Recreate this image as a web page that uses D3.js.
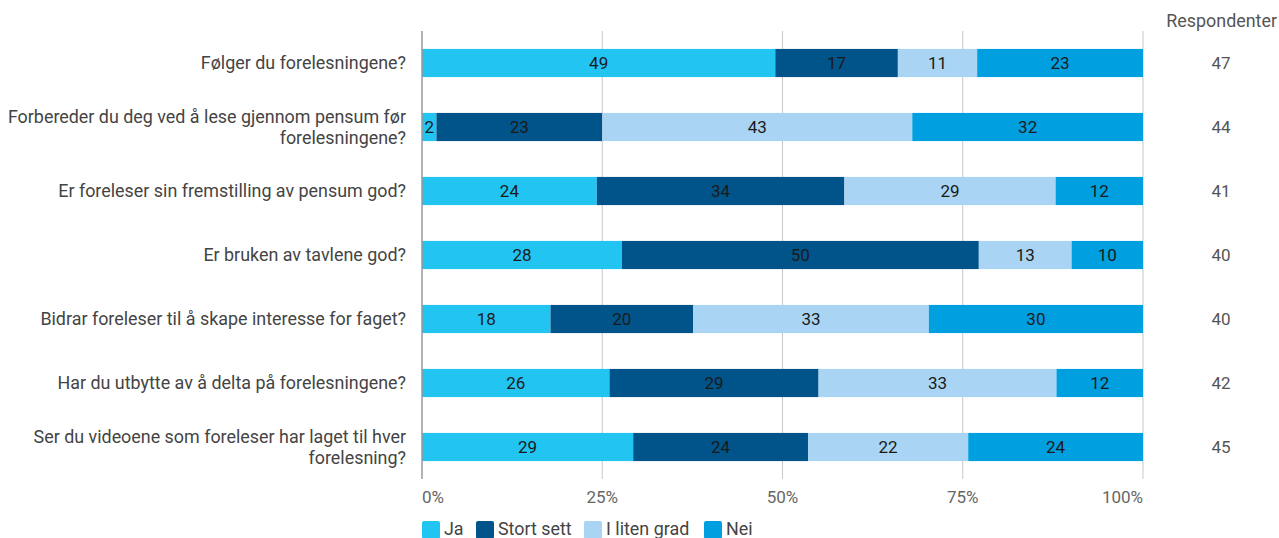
<!DOCTYPE html>
<html>
<head>
<meta charset="utf-8">
<script src="https://cdn.jsdelivr.net/npm/d3@7"></script>
<style>
  body { margin: 0; background: #fff; font-family: Roboto, "Noto Sans", sans-serif; }
</style>
</head>
<body>
<div id="chart"></div>
<script>
// questions (rows), top to bottom
const questions = [
  ['Følger du forelesningene?'],
  ['Forbereder du deg ved å lese gjennom pensum før', 'forelesningene?'],
  ['Er foreleser sin fremstilling av pensum god?'],
  ['Er bruken av tavlene god?'],
  ['Bidrar foreleser til å skape interesse for faget?'],
  ['Har du utbytte av å delta på forelesningene?'],
  ['Ser du videoene som foreleser har laget til hver', 'forelesning?']
];
const answers = ['Ja', 'Stort sett', 'I liten grad', 'Nei'];
const colors = ['#22c4f2', '#00548a', '#a9d4f4', '#009fe0'];

// percentages per answer
const ja = [49, 2, 24, 28, 18, 26, 29];
const stortSett = [17, 23, 34, 50, 20, 29, 24];
const litenGrad = [11, 43, 29, 13, 33, 33, 22];
const nei = [23, 32, 12, 10, 30, 12, 24];
const respondenter = [47, 44, 41, 40, 40, 42, 45];

const ticks = [0, 0.25, 0.5, 0.75, 1];

const width = 1279, height = 538;
const margin = { top: 31, right: 136, bottom: 59, left: 422 };
const fontSize = '17.9px';

const rows = questions.map((q, i) => ({
  idx: i, q, 'Ja': ja[i], 'Stort sett': stortSett[i], 'I liten grad': litenGrad[i], 'Nei': nei[i]
}));

const series = d3.stack().keys(answers).offset(d3.stackOffsetExpand)(rows);

const x = d3.scaleLinear().domain([0, 1]).range([margin.left, width - margin.right]);
const y = d3.scaleBand().domain(d3.range(questions.length))
  .range([margin.top, height - margin.bottom]).paddingInner(0.56).paddingOuter(0.28);

const svg = d3.select('#chart').append('svg')
  .attr('width', width).attr('height', height);

// grid lines
svg.append('g').selectAll('line')
  .data(ticks.slice(1))
  .join('line')
  .attr('x1', d => x(d)).attr('x2', d => x(d))
  .attr('y1', margin.top).attr('y2', height - margin.bottom)
  .attr('stroke', '#c8c8c8').attr('stroke-width', 1);

// bars
const layer = svg.append('g').selectAll('g')
  .data(series)
  .join('g')
  .attr('fill', (d, i) => colors[i]);

layer.selectAll('rect')
  .data(d => d)
  .join('rect')
  .attr('x', d => x(d[0]))
  .attr('width', d => x(d[1]) - x(d[0]))
  .attr('y', d => y(d.data.idx))
  .attr('height', y.bandwidth());

// value labels
layer.each(function (s) {
  d3.select(this).selectAll('text')
    .data(s)
    .join('text')
    .attr('x', d => (x(d[0]) + x(d[1])) / 2)
    .attr('y', d => y(d.data.idx) + y.bandwidth() / 2)
    .attr('dy', '0.36em')
    .attr('text-anchor', 'middle')
    .attr('fill', '#1a1a1a')
    .style('font-size', '17px')
    .text(d => d.data[s.key]);
});

// zero axis line
svg.append('line')
  .attr('x1', x(0)).attr('x2', x(0))
  .attr('y1', margin.top).attr('y2', height - margin.bottom)
  .attr('stroke', '#999').attr('stroke-width', 1.5);

// question labels
const qLabels = svg.append('g').selectAll('text')
  .data(questions)
  .join('text')
  .attr('text-anchor', 'end')
  .attr('fill', '#444')
  .style('font-size', fontSize)
  .attr('y', (d, i) => y(i) + y.bandwidth() / 2 - (d.length - 1) * 10.5);

qLabels.selectAll('tspan')
  .data(d => d)
  .join('tspan')
  .attr('x', 406)
  .attr('dy', (d, i) => i === 0 ? '0.36em' : '21px')
  .text(d => d);

// x tick labels
svg.append('g').selectAll('text')
  .data(ticks)
  .join('text')
  .attr('x', d => x(d))
  .attr('y', 503)
  .attr('text-anchor', (d, i) => i === 0 ? 'start' : (i === ticks.length - 1 ? 'end' : 'middle'))
  .attr('fill', '#666')
  .style('font-size', '17px')
  .text(d => d3.format('.0%')(d));

// respondents column
svg.append('text')
  .attr('x', 1277).attr('y', 27)
  .attr('text-anchor', 'end')
  .attr('fill', '#555')
  .style('font-size', fontSize)
  .text('Respondenter');

svg.append('g').selectAll('text')
  .data(respondenter)
  .join('text')
  .attr('x', 1221)
  .attr('y', (d, i) => y(i) + y.bandwidth() / 2)
  .attr('dy', '0.36em')
  .attr('text-anchor', 'middle')
  .attr('fill', '#555')
  .style('font-size', '17px')
  .text(d => d);

// legend
const legendX = [422, 476, 584, 704];
const legend = svg.append('g').selectAll('g')
  .data(answers)
  .join('g')
  .attr('transform', (d, i) => `translate(${legendX[i]},521)`);

legend.append('rect')
  .attr('width', 18).attr('height', 18).attr('rx', 2)
  .attr('fill', (d, i) => colors[i]);

legend.append('text')
  .attr('x', 22).attr('y', 8).attr('dy', '0.36em')
  .attr('fill', '#444')
  .style('font-size', fontSize)
  .text(d => d);
</script>
</body>
</html>
